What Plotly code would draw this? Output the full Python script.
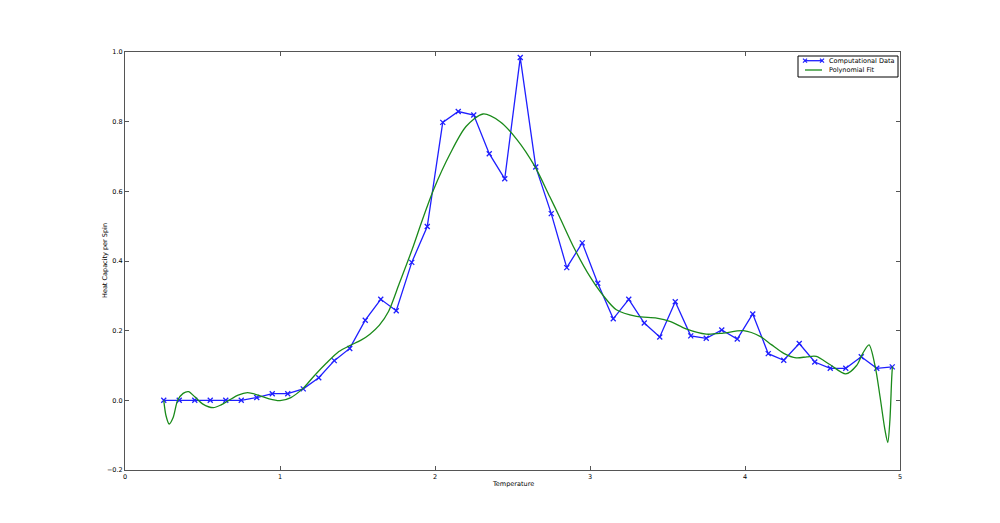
import plotly.graph_objects as go

temperature = [0.25, 0.35, 0.45, 0.55, 0.65, 0.75, 0.85, 0.95, 1.05, 1.15,
               1.25, 1.35, 1.45, 1.55, 1.65, 1.75, 1.85, 1.95, 2.05, 2.15,
               2.25, 2.35, 2.45, 2.55, 2.65, 2.75, 2.85, 2.95, 3.05, 3.15,
               3.25, 3.35, 3.45, 3.55, 3.65, 3.75, 3.85, 3.95, 4.05, 4.15,
               4.25, 4.35, 4.45, 4.55, 4.65, 4.75, 4.85, 4.95]
heat_capacity = [0.0, 0.0, 0.0, 0.0, 0.0, 0.0, 0.008, 0.019, 0.019, 0.033,
                 0.065, 0.114, 0.149, 0.230, 0.290, 0.257, 0.396, 0.499, 0.798, 0.829,
                 0.819, 0.708, 0.636, 0.984, 0.670, 0.536, 0.381, 0.452, 0.336, 0.234,
                 0.290, 0.222, 0.182, 0.283, 0.185, 0.178, 0.202, 0.176, 0.248, 0.134,
                 0.115, 0.163, 0.110, 0.092, 0.092, 0.125, 0.092, 0.096]

fit_x = [0.25, 0.265, 0.285, 0.31, 0.34, 0.375, 0.41, 0.45, 0.5, 0.57, 0.62, 0.67,
         0.73, 0.79, 0.86, 0.93, 1.0, 1.07, 1.15, 1.22, 1.30, 1.38, 1.45, 1.52,
         1.58, 1.64, 1.70, 1.77, 1.85, 1.92, 1.99, 2.10, 2.20, 2.31, 2.42, 2.53,
         2.645, 2.74, 2.80, 2.90, 3.0, 3.09, 3.17, 3.30, 3.43, 3.52, 3.62, 3.75,
         3.86, 3.99, 4.10, 4.17, 4.25, 4.33, 4.40, 4.46, 4.55, 4.65, 4.72, 4.76,
         4.80, 4.84, 4.871, 4.903, 4.921, 4.935, 4.946, 4.951]
fit_y = [0.0, -0.045, -0.068, -0.05, 0.0, 0.02, 0.025, 0.01, -0.01, -0.021, -0.013, 0.0,
         0.015, 0.022, 0.015, 0.004, -0.001, 0.008, 0.035, 0.07, 0.107, 0.14, 0.157, 0.172,
         0.19, 0.215, 0.255, 0.336, 0.43, 0.52, 0.604, 0.71, 0.786, 0.822, 0.800, 0.748,
         0.671, 0.585, 0.53, 0.435, 0.355, 0.298, 0.26, 0.241, 0.236, 0.226, 0.205, 0.19,
         0.193, 0.200, 0.183, 0.16, 0.135, 0.122, 0.125, 0.126, 0.102, 0.076, 0.10, 0.135,
         0.159, 0.097, 0.011, -0.085, -0.121, -0.056, 0.059, 0.097]

x_ticks = [0, 1, 2, 3, 4, 5]
y_ticks = [-0.2, 0.0, 0.2, 0.4, 0.6, 0.8, 1.0]
y_tick_text = ["\u22120.2", "0.0", "0.2", "0.4", "0.6", "0.8", "1.0"]
series_names = ["Computational Data", "Polynomial Fit"]

BLUE = "#1f1fff"
GREEN = "#1a8a1a"
FONT = "DejaVu Sans"
FS = 6.5

fig = go.Figure()
fig.add_trace(go.Scatter(
    x=temperature, y=heat_capacity, mode="lines+markers",
    name=series_names[0], showlegend=False,
    line=dict(color=BLUE, width=1.3),
    marker=dict(symbol="x-thin", size=5, line=dict(color=BLUE, width=1.3), color=BLUE),
))
fig.add_trace(go.Scatter(
    x=fit_x, y=fit_y, mode="lines", name=series_names[1], showlegend=False,
    line=dict(color=GREEN, width=1.3, shape="spline", smoothing=0.8),
))

axis_common = dict(
    showgrid=False, zeroline=False, showline=True, linecolor="#555555", linewidth=1,
    mirror="ticks", ticks="inside", ticklen=4, tickcolor="#555555",
    tickfont=dict(family=FONT, size=FS, color="#000000"),
    automargin=False,
)
fig.update_xaxes(range=[0, 5], tickvals=x_ticks, ticktext=[str(t) for t in x_ticks], **axis_common)
fig.update_yaxes(range=[-0.2, 1.0], tickvals=y_ticks, ticktext=y_tick_text, **axis_common)

# plot area in page pixels: x 125..900, y 52..470
PW, PH = 775.0, 418.0
def px(xp):
    return (xp - 125) / PW
def py(yp):
    return (470 - yp) / PH

annotations = [
    dict(text="Temperature", x=0.5, y=py(484), xref="paper", yref="paper",
         showarrow=False, xanchor="center", yanchor="middle",
         font=dict(family=FONT, size=FS, color="#000")),
    dict(text="Heat Capacity per Spin", x=px(105), y=0.5, xref="paper", yref="paper",
         showarrow=False, xanchor="center", yanchor="middle", textangle=-90,
         font=dict(family=FONT, size=FS, color="#000")),
]
shapes = []
# manual matplotlib-style legend
shapes.append(dict(type="rect", xref="paper", yref="paper",
                   x0=px(798), x1=px(898), y0=py(77), y1=py(56),
                   line=dict(color="#000000", width=1), fillcolor="white", layer="above"))
rows = [60.7, 70.0]
colors = [BLUE, GREEN]
for i, name in enumerate(series_names):
    yy = rows[i]
    shapes.append(dict(type="line", xref="paper", yref="paper",
                       x0=px(805), x1=px(822), y0=py(yy), y1=py(yy),
                       line=dict(color=colors[i], width=1.3), layer="above"))
    if i == 0:
        for cx in (805, 822):
            for d in (1, -1):
                shapes.append(dict(type="line", xref="paper", yref="paper",
                                   x0=px(cx - 2), x1=px(cx + 2), y0=py(yy - 2 * d), y1=py(yy + 2 * d),
                                   line=dict(color=colors[i], width=1.2), layer="above"))
    annotations.append(dict(text=name, x=px(827), y=py(yy), xref="paper", yref="paper",
                            showarrow=False, xanchor="left", yanchor="middle",
                            font=dict(family=FONT, size=FS, color="#000")))

fig.update_layout(
    width=1000, height=523,
    margin=dict(l=117, r=108, t=44, b=61),
    paper_bgcolor="white", plot_bgcolor="white",
    showlegend=False,
    annotations=annotations, shapes=shapes,
)

fig.write_html("out.html")
